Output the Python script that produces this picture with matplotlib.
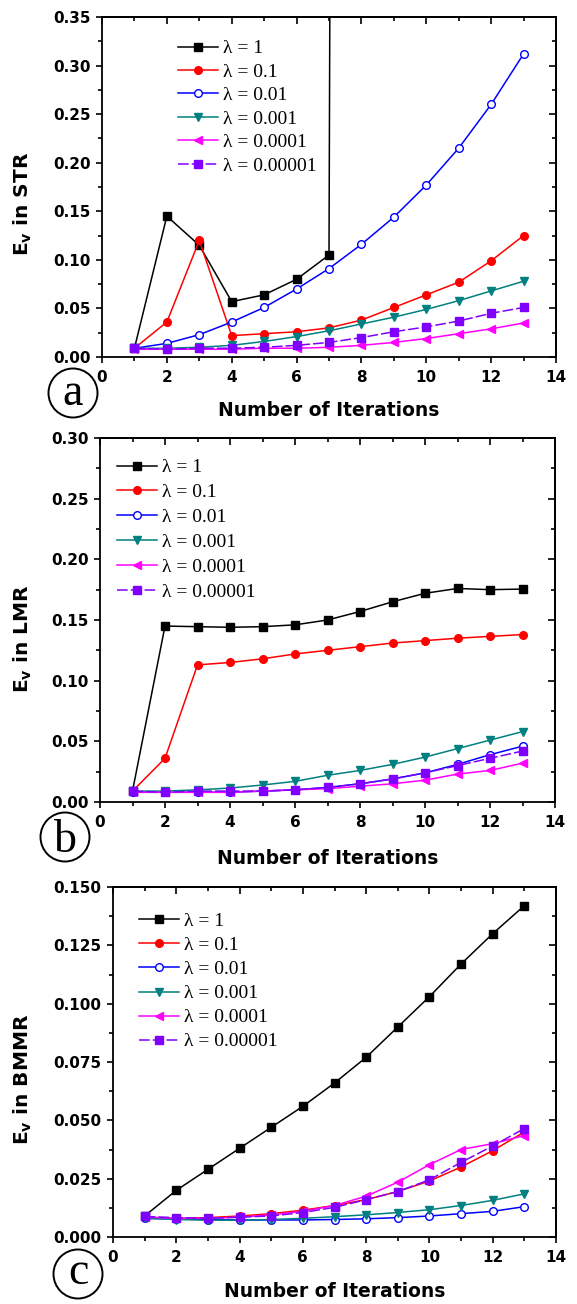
import matplotlib
matplotlib.use("Agg")
import matplotlib.pyplot as plt
from matplotlib.patches import Ellipse
from matplotlib.ticker import MultipleLocator, FormatStrFormatter

iters = list(range(1, 14))
labels = ["λ = 1", "λ = 0.1", "λ = 0.01", "λ = 0.001", "λ = 0.0001", "λ = 0.00001"]

# Panel a (STR); lambda=1 diverges after iteration 7
str_l1_x = [1, 2, 3, 4, 5, 6, 7, 8]
str_l1 = [0.009, 0.145, 0.115, 0.057, 0.064, 0.080, 0.105, 10.0]
str_l01 = [0.009, 0.036, 0.120, 0.022, 0.024, 0.026, 0.030, 0.038, 0.051, 0.064, 0.077, 0.099, 0.125]
str_l001 = [0.009, 0.014, 0.023, 0.036, 0.051, 0.070, 0.091, 0.116, 0.144, 0.177, 0.215, 0.260, 0.312]
str_l0001 = [0.009, 0.009, 0.010, 0.012, 0.016, 0.021, 0.027, 0.034, 0.041, 0.049, 0.058, 0.068, 0.078]
str_l00001 = [0.008, 0.008, 0.008, 0.008, 0.009, 0.009, 0.010, 0.012, 0.015, 0.019, 0.024, 0.029, 0.035]
str_l000001 = [0.009, 0.008, 0.009, 0.009, 0.010, 0.012, 0.015, 0.020, 0.026, 0.031, 0.037, 0.045, 0.051]

# Panel b (LMR)
lmr_l1 = [0.009, 0.145, 0.1445, 0.144, 0.1445, 0.146, 0.150, 0.157, 0.165, 0.172, 0.176, 0.175, 0.1755]
lmr_l01 = [0.009, 0.036, 0.113, 0.115, 0.118, 0.122, 0.125, 0.128, 0.131, 0.133, 0.135, 0.1365, 0.138]
lmr_l001 = [0.008, 0.008, 0.008, 0.008, 0.009, 0.010, 0.012, 0.015, 0.019, 0.024, 0.031, 0.039, 0.046]
lmr_l0001 = [0.009, 0.009, 0.010, 0.0115, 0.014, 0.017, 0.022, 0.026, 0.031, 0.037, 0.044, 0.051, 0.058]
lmr_l00001 = [0.008, 0.008, 0.008, 0.008, 0.009, 0.010, 0.011, 0.013, 0.015, 0.018, 0.023, 0.026, 0.032]
lmr_l000001 = [0.009, 0.008, 0.009, 0.009, 0.009, 0.010, 0.012, 0.015, 0.019, 0.024, 0.030, 0.036, 0.042]

# Panel c (BMMR)
bmmr_l1 = [0.009, 0.020, 0.029, 0.038, 0.047, 0.056, 0.066, 0.077, 0.090, 0.103, 0.117, 0.130, 0.142]
bmmr_l01 = [0.0085, 0.008, 0.0083, 0.009, 0.010, 0.0115, 0.0135, 0.016, 0.0195, 0.024, 0.030, 0.037, 0.045]
bmmr_l001 = [0.008, 0.0078, 0.0075, 0.0073, 0.0073, 0.0073, 0.0075, 0.0078, 0.0083, 0.009, 0.010, 0.011, 0.013]
bmmr_l0001 = [0.008, 0.0075, 0.0072, 0.0072, 0.0075, 0.008, 0.0087, 0.0095, 0.0105, 0.0117, 0.0135, 0.0157, 0.0185]
bmmr_l00001 = [0.0085, 0.008, 0.008, 0.0085, 0.0095, 0.011, 0.0135, 0.0175, 0.0235, 0.031, 0.0375, 0.040, 0.0435]
bmmr_l000001 = [0.0088, 0.0083, 0.008, 0.0085, 0.009, 0.0105, 0.0127, 0.016, 0.0195, 0.0245, 0.032, 0.039, 0.0465]

colors = ["#000000", "#ff0000", "#0000ff", "#008080", "#ff00ff", "#8000ff"]
markers = ["s", "o", "o", "v", "<", "s"]
faces = ["#000000", "#ff0000", "white", "#008080", "#ff00ff", "#8000ff"]
styles = ["-", "-", "-", "-", "-", (0, (7, 2))]

W, H = 577, 1304
fig = plt.figure(figsize=(W / 100, H / 100), dpi=100)

def rect(l, t, r, b):
    return [l / W, 1 - b / H, (r - l) / W, (b - t) / H]

panels = [
    dict(rect=rect(102, 17, 556, 357), ylim=0.35, ymaj=0.05, ymin=0.025, fmt="%.2f",
         ylabel="STR", series=[(str_l1_x, str_l1), (iters, str_l01), (iters, str_l001),
                               (iters, str_l0001), (iters, str_l00001), (iters, str_l000001)],
         leg=(0.150, 0.956), lsp=0.30, letter="a", circ=(73, 393), base=12,
         ylx=-0.174, xly=-0.156),
    dict(rect=rect(100, 438, 555, 802), ylim=0.30, ymaj=0.05, ymin=0.025, fmt="%.2f",
         ylabel="LMR", series=[(iters, lmr_l1), (iters, lmr_l01), (iters, lmr_l001),
                               (iters, lmr_l0001), (iters, lmr_l00001), (iters, lmr_l000001)],
         leg=(0.02, 0.964), lsp=0.37, letter="b", circ=(65, 837), base=15,
         ylx=-0.169, xly=-0.154),
    dict(rect=rect(113, 887, 556, 1237), ylim=0.150, ymaj=0.025, ymin=0.0125, fmt="%.3f",
         ylabel="BMMR", series=[(iters, bmmr_l1), (iters, bmmr_l01), (iters, bmmr_l001),
                                (iters, bmmr_l0001), (iters, bmmr_l00001), (iters, bmmr_l000001)],
         leg=(0.041, 0.949), lsp=0.33, letter="c", circ=(78, 1274), base=10,
         ylx=-0.203, xly=-0.157),
]

for p in panels:
    ax = fig.add_axes(p["rect"])
    for i, (xs, ys) in enumerate(p["series"]):
        ax.plot(xs, ys, color=colors[i], marker=markers[i], markerfacecolor=faces[i],
                markeredgecolor=colors[i], markersize=5.5, linewidth=1.1,
                linestyle=styles[i], label=labels[i])
    ax.set_xlim(0, 14)
    ax.set_ylim(0, p["ylim"])
    ax.xaxis.set_major_locator(MultipleLocator(2))
    ax.xaxis.set_minor_locator(MultipleLocator(1))
    ax.yaxis.set_major_locator(MultipleLocator(p["ymaj"]))
    ax.yaxis.set_minor_locator(MultipleLocator(p["ymin"]))
    ax.yaxis.set_major_formatter(FormatStrFormatter(p["fmt"]))
    ax.tick_params(which="both", direction="out", width=1.2)
    ax.tick_params(which="major", length=4.2)
    ax.tick_params(which="minor", length=2.8)
    ax.tick_params(axis="x", which="major", pad=5)
    ax.tick_params(axis="y", which="major", pad=4)
    # mirrored inward ticks on top and right
    top = ax.secondary_xaxis("top")
    top.xaxis.set_major_locator(MultipleLocator(2))
    top.xaxis.set_minor_locator(MultipleLocator(1))
    top.tick_params(which="both", direction="in", labeltop=False, width=1.2)
    top.tick_params(which="major", length=4.8)
    top.tick_params(which="minor", length=3)
    right = ax.secondary_yaxis("right")
    right.yaxis.set_major_locator(MultipleLocator(p["ymaj"]))
    right.yaxis.set_minor_locator(MultipleLocator(p["ymin"]))
    right.tick_params(which="both", direction="in", labelright=False, width=1.2)
    right.tick_params(which="major", length=4.8)
    right.tick_params(which="minor", length=3)
    for sec in (top, right):
        for s in sec.spines.values():
            s.set_linewidth(1.3)
    for lab in ax.get_xticklabels() + ax.get_yticklabels():
        lab.set_fontfamily("DejaVu Sans")
        lab.set_fontweight("bold")
        lab.set_fontsize(11)
    for s in ax.spines.values():
        s.set_linewidth(1.3)
    ax.set_xlabel("Number of Iterations", fontfamily="DejaVu Sans", fontweight="bold", fontsize=13.5)
    ax.xaxis.set_label_coords(0.5, p["xly"])
    ax.xaxis.label.set_va("center")
    ax.set_ylabel(r"E$_\mathregular{v}$ in " + p["ylabel"], fontfamily="DejaVu Sans",
                  fontweight="bold", fontsize=14.5)
    ax.yaxis.set_label_coords(p["ylx"], 0.45)
    ax.yaxis.label.set_va("center")
    ax.legend(loc="upper left", bbox_to_anchor=p["leg"], frameon=False,
              prop=dict(family="Liberation Serif", size=14), handlelength=2.05,
              handletextpad=0.25, labelspacing=p["lsp"], borderaxespad=0)
    cx, cy = p["circ"]
    fig.patches.append(Ellipse((cx / W, 1 - cy / H), 49 / W, 49 / H, transform=fig.transFigure,
                               facecolor="white", edgecolor="black", linewidth=1.4))
    fig.text(cx / W, 1 - (cy + p["base"]) / H, p["letter"], fontfamily="Liberation Serif",
             fontsize=33, ha="center", va="baseline")

fig.savefig("out.png", dpi=100, facecolor="white")
